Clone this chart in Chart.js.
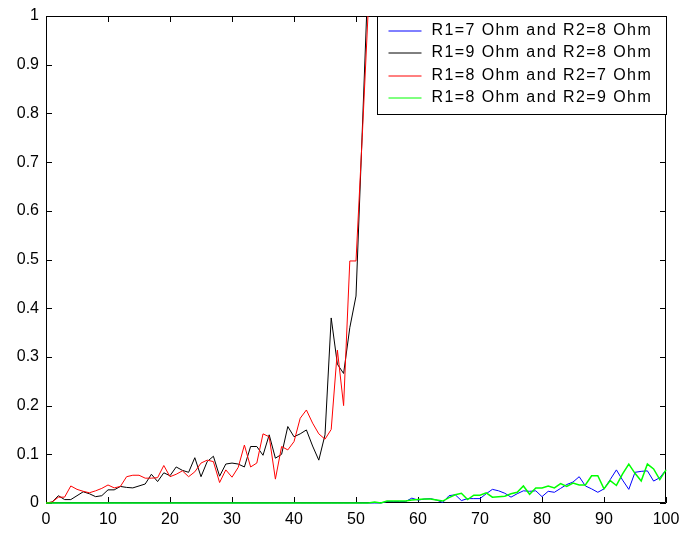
<!DOCTYPE html>
<html>
<head>
<meta charset="utf-8">
<style>
  html, body { margin: 0; padding: 0; background: #ffffff; }
  #wrap { width: 682px; height: 534px; }
</style>
<script src="https://cdn.jsdelivr.net/npm/chart.js@4/dist/chart.umd.min.js"></script>
</head>
<body>
<div id="wrap"><canvas id="c" width="682" height="534"></canvas></div>
<script>
// Series labels
const seriesNames = [
  'R1=7 Ohm and R2=8 Ohm',
  'R1=9 Ohm and R2=8 Ohm',
  'R1=8 Ohm and R2=7 Ohm',
  'R1=8 Ohm and R2=9 Ohm'
];

// Tick labels
const xTickLabels = ['0', '10', '20', '30', '40', '50', '60', '70', '80', '90', '100'];
const yTickLabels = ['0', '0.1', '0.2', '0.3', '0.4', '0.5', '0.6', '0.7', '0.8', '0.9', '1'];

// Values sampled at x = 0, 1, 2, ...
// R1=7 / R2=8 (x = 0..100)
const seriesBlue = [
  0, 0, 0, 0, 0, 0, 0, 0, 0, 0,
  0, 0, 0, 0, 0, 0, 0, 0, 0, 0,
  0, 0, 0, 0, 0, 0, 0, 0, 0, 0,
  0, 0, 0, 0, 0, 0, 0, 0, 0, 0,
  0, 0, 0, 0, 0, 0, 0, 0, 0, 0,
  0, 0, 0, 0, 0, 0.003, 0.003, 0.003, 0.003, 0.010,
  0.006, 0.008, 0.009, 0.006, 0.001, 0.015, 0.017, 0.005, 0.009, 0.009,
  0.009, 0.019, 0.028, 0.025, 0.020, 0.012, 0.019, 0.025, 0.024, 0.025,
  0.013, 0.024, 0.022, 0.030, 0.038, 0.043, 0.054, 0.035, 0.029, 0.022,
  0.029, 0.048, 0.068, 0.047, 0.028, 0.063, 0.065, 0.066, 0.045, 0.052,
  0.068
];

// R1=9 / R2=8 (x = 0..52, leaves the plot above 1)
const seriesBlack = [
  0, 0.002, 0.015, 0.007, 0.007, 0.015, 0.023, 0.019, 0.013, 0.015,
  0.027, 0.027, 0.034, 0.032, 0.031, 0.035, 0.039, 0.059, 0.044, 0.062,
  0.056, 0.074, 0.067, 0.063, 0.093, 0.054, 0.085, 0.096, 0.055, 0.080,
  0.082, 0.080, 0.074, 0.116, 0.116, 0.098, 0.140, 0.092, 0.100, 0.157,
  0.136, 0.142, 0.150, 0.117, 0.088, 0.140, 0.380, 0.285, 0.266, 0.360,
  0.425, 0.760, 1.100
];

// R1=8 / R2=7 (x = 0..52, leaves the plot above 1)
const seriesRed = [
  0, 0.002, 0.012, 0.012, 0.035, 0.028, 0.024, 0.021, 0.025, 0.030,
  0.037, 0.031, 0.034, 0.054, 0.057, 0.057, 0.051, 0.051, 0.052, 0.077,
  0.054, 0.059, 0.066, 0.054, 0.064, 0.082, 0.088, 0.085, 0.042, 0.068,
  0.053, 0.073, 0.119, 0.074, 0.082, 0.142, 0.136, 0.049, 0.116, 0.109,
  0.126, 0.174, 0.191, 0.164, 0.142, 0.131, 0.151, 0.314, 0.200, 0.497,
  0.497, 0.750, 1.020
];

// R1=8 / R2=9 (x = 0..100)
const seriesGreen = [
  0, 0, 0, 0, 0, 0, 0, 0, 0, 0,
  0, 0, 0, 0, 0, 0, 0, 0, 0, 0,
  0, 0, 0, 0, 0, 0, 0, 0, 0, 0,
  0, 0, 0, 0, 0, 0, 0, 0, 0, 0,
  0, 0, 0, 0, 0, 0, 0, 0, 0, 0,
  0, 0, 0, 0.002, 0, 0.004, 0.004, 0.004, 0.004, 0.006,
  0.007, 0.008, 0.008, 0.006, 0.004, 0.011, 0.017, 0.020, 0.007, 0.016,
  0.016, 0.021, 0.012, 0.013, 0.014, 0.019, 0.022, 0.035, 0.018, 0.031,
  0.031, 0.035, 0.031, 0.040, 0.034, 0.041, 0.037, 0.037, 0.056, 0.056,
  0.029, 0.046, 0.036, 0.060, 0.080, 0.061, 0.045, 0.080, 0.070, 0.048,
  0.068
];

const seriesColors = ['#0000ff', '#000000', '#ff0000', '#00ff00'];
const seriesValues = [seriesBlue, seriesBlack, seriesRed, seriesGreen];
// later series are painted over earlier ones
const drawOrder = [4, 3, 2, 1];

const toPoints = arr => arr.map((v, i) => ({ x: i, y: v }));

const FONT = '"Liberation Sans", Arial, Helvetica, sans-serif';

// Box around the plot with inward tick marks on all four sides (under the curves)
const frameTicks = {
  id: 'frameTicks',
  beforeDatasetsDraw(chart) {
    const { ctx, chartArea: a, scales } = chart;
    const len = 6;
    ctx.save();
    ctx.strokeStyle = '#000';
    ctx.lineWidth = 1;
    ctx.beginPath();
    ctx.rect(Math.round(a.left) + 0.5, Math.round(a.top) + 0.5,
             Math.round(a.right - a.left) - 1, Math.round(a.bottom - a.top) - 1);
    ctx.stroke();
    ctx.beginPath();
    scales.x.ticks.forEach(t => {
      const px = Math.round(scales.x.getPixelForValue(t.value)) + 0.5;
      ctx.moveTo(px, a.bottom); ctx.lineTo(px, a.bottom - len);
      ctx.moveTo(px, a.top); ctx.lineTo(px, a.top + len);
    });
    scales.y.ticks.forEach(t => {
      const py = Math.round(scales.y.getPixelForValue(t.value)) + 0.5;
      ctx.moveTo(a.left, py); ctx.lineTo(a.left + len, py);
      ctx.moveTo(a.right, py); ctx.lineTo(a.right - len, py);
    });
    ctx.stroke();
    ctx.restore();
  }
};

// Legend box in the upper-right corner of the plot
const boxLegend = {
  id: 'boxLegend',
  afterDraw(chart) {
    const { ctx, chartArea: a } = chart;
    const w = 289, h = 98;
    const x0 = Math.round(a.right - w) + 0.5, y0 = Math.round(a.top) + 0.5;
    ctx.save();
    ctx.fillStyle = '#fff';
    ctx.fillRect(x0, y0, w, h);
    ctx.strokeStyle = '#000';
    ctx.lineWidth = 1;
    ctx.strokeRect(x0, y0, w, h);
    ctx.font = '16px ' + FONT;
    ctx.textBaseline = 'middle';
    ctx.textAlign = 'left';
    if ('letterSpacing' in ctx) ctx.letterSpacing = '1.4px';
    seriesNames.forEach((name, i) => {
      const yy = Math.round(y0 + 14 + i * 22.6);
      ctx.strokeStyle = seriesColors[i];
      ctx.lineWidth = 1;
      ctx.beginPath();
      ctx.moveTo(x0 + 11, yy);
      ctx.lineTo(x0 + 44, yy);
      ctx.stroke();
      ctx.fillStyle = '#000';
      ctx.fillText(name, x0 + 54, yy);
    });
    ctx.restore();
  }
};

new Chart(document.getElementById('c'), {
  type: 'line',
  data: {
    datasets: seriesNames.map((name, i) => ({
      label: name,
      data: toPoints(seriesValues[i]),
      borderColor: seriesColors[i],
      backgroundColor: seriesColors[i],
      borderWidth: i === 3 ? 1.5 : 1,
      pointRadius: 0,
      tension: 0,
      fill: false,
      clip: { left: 2, right: 2, top: 0, bottom: 2 },
      order: drawOrder[i]
    }))
  },
  options: {
    responsive: false,
    animation: false,
    events: [],
    layout: { padding: { left: 0, top: 16, right: 16, bottom: 0 } },
    plugins: { legend: { display: false }, tooltip: { enabled: false } },
    scales: {
      x: {
        type: 'linear',
        min: 0, max: 100,
        grid: { display: false, drawTicks: false },
        border: { display: false },
        afterFit(s) { s.height = 31; s.paddingLeft = 0; s.paddingRight = 0; },
        ticks: {
          stepSize: 10,
          padding: 7,
          maxRotation: 0,
          color: '#000',
          font: { family: FONT, size: 16 },
          callback: (v) => xTickLabels[Math.round(v / 10)]
        }
      },
      y: {
        min: 0, max: 1,
        grid: { display: false, drawTicks: false },
        border: { display: false },
        afterFit(s) { s.width = 46; s.paddingTop = 0; s.paddingBottom = 0; },
        ticks: {
          stepSize: 0.1,
          padding: 7,
          color: '#000',
          font: { family: FONT, size: 16 },
          callback: (v) => yTickLabels[Math.round(v * 10)]
        }
      }
    }
  },
  plugins: [frameTicks, boxLegend]
});
</script>
</body>
</html>
